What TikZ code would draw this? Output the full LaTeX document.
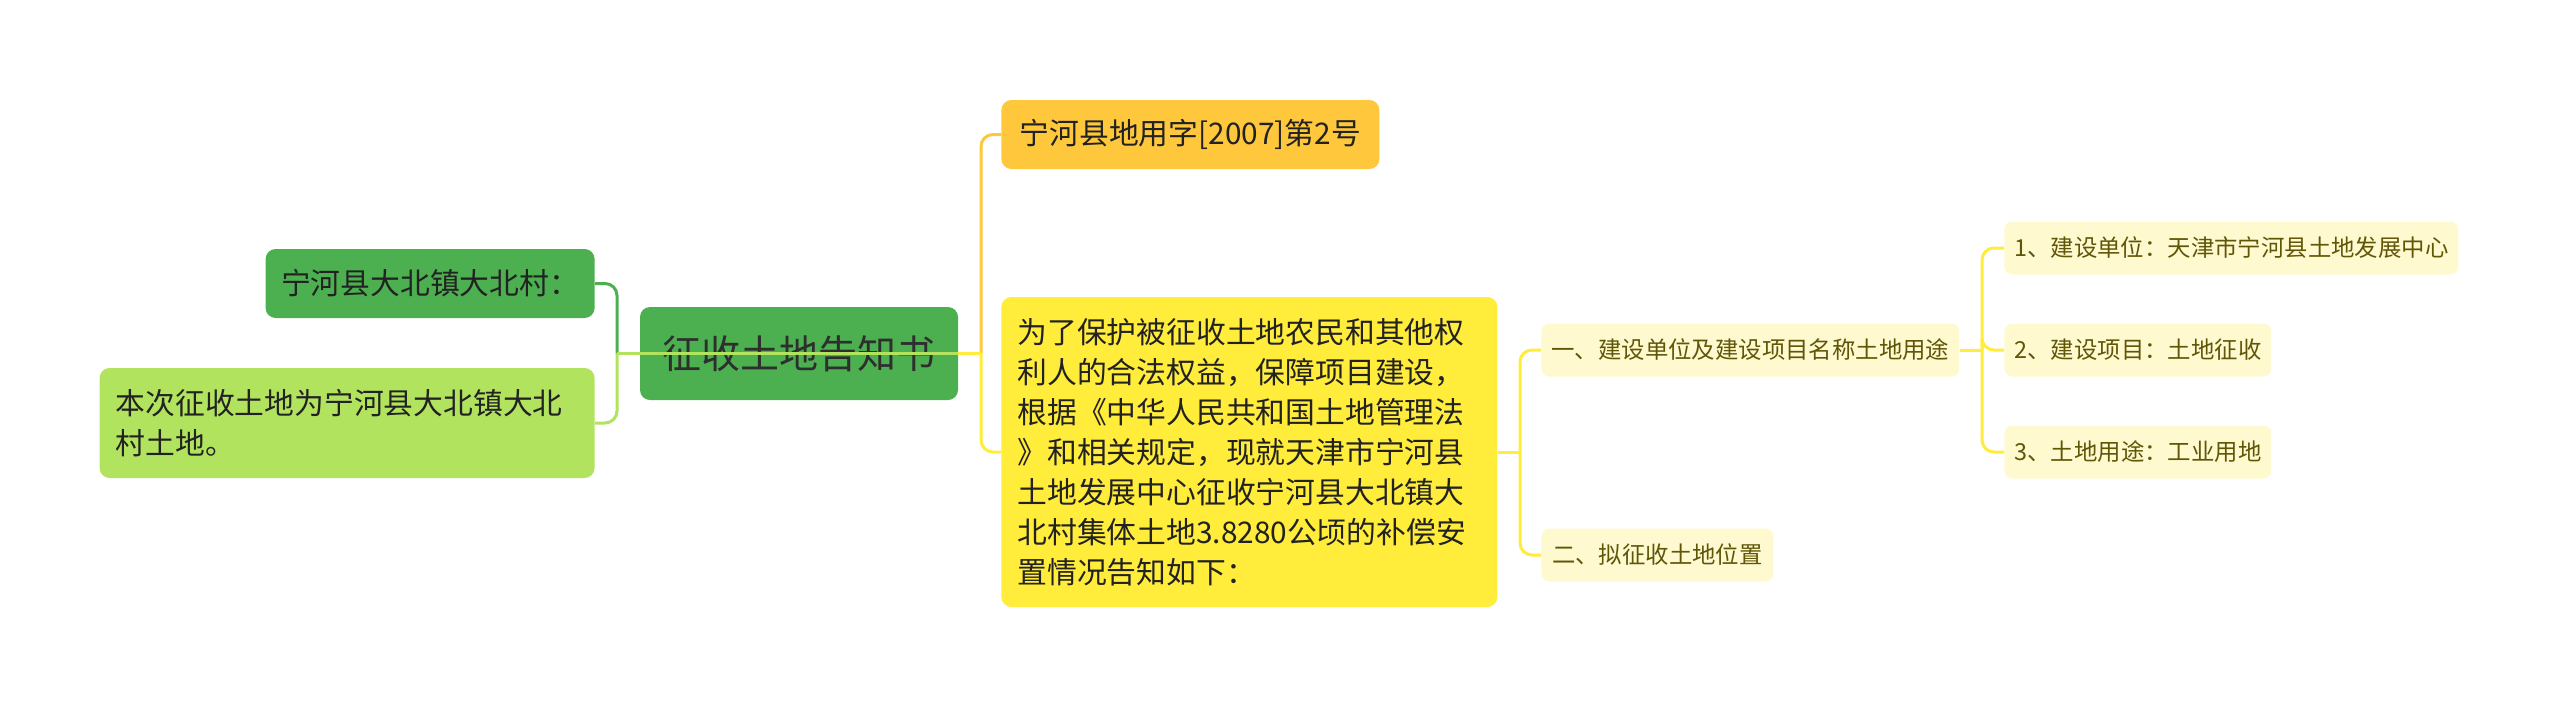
\documentclass[tikz,border=0pt]{standalone}
\usepackage{fontspec}
\setmainfont{Noto Sans CJK SC}
\usetikzlibrary{positioning,calc}
\definecolor{mapdgreen} {RGB}{76,175,80}
\definecolor{maplgreen} {RGB}{178,227,94}
\definecolor{maporange} {RGB}{255,200,60}
\definecolor{mapyellow} {RGB}{255,236,59}
\definecolor{mappale}   {RGB}{255,249,207}
\definecolor{maptext}   {RGB}{34,34,34}
\definecolor{mapolive}  {RGB}{96,86,8}

\begin{document}
\begin{tikzpicture}[x=0.5pt,y=-0.5pt,
  box/.style={rounded corners=5pt,inner sep=0pt,align=center},
  rootbox/.style={box,fill=mapdgreen,minimum width=159pt,minimum height=46.5pt,
                  font=\fontsize{19.5pt}{24pt}\selectfont,text={rgb,255:red,46;green,46;blue,46}},
  lvA/.style={box,font=\fontsize{14.9pt}{20pt}\selectfont,text=maptext},
  lvB/.style={box,rounded corners=4pt,fill=mappale,minimum height=26.5pt,
              font=\fontsize{11.7pt}{14pt}\selectfont,text=mapolive},
  link/.style={draw=#1,line width=1.5pt,rounded corners=6pt},
]
\useasboundingbox (0,0) rectangle (2560,707);

%% Central topic
\node[rootbox] (root) at (799,353.5) {征收土地告知书};

%% Left branch
\node[lvA,fill=mapdgreen,minimum width=164.5pt,minimum height=34.5pt,anchor=east]
  (village) at (595,283.5) {宁河县大北镇大北村：};
\node[lvA,fill=maplgreen,text width=231.5pt,inner xsep=8pt,minimum height=55pt,
      align=left,anchor=east]
  (scope) at (595,423) {本次征收土地为宁河县大北镇大北\\村土地。};

%% Right branch
\node[lvA,fill=maporange,minimum width=189pt,minimum height=34.5pt,anchor=west]
  (docno) at (1001,134.5) {宁河县地用字[2007]第2号};
\node[lvA,fill=mapyellow,text width=232pt,inner xsep=8pt,minimum height=155pt,
      align=left,anchor=west]
  (notice) at (1001,452) {为了保护被征收土地农民和其他权\\
    利人的合法权益，保障项目建设，\\
    根据《中华人民共和国土地管理法\\
    》和相关规定，现就天津市宁河县\\
    土地发展中心征收宁河县大北镇大\\
    北村集体土地3.8280公顷的补偿安\\
    置情况告知如下：};

%% Items of the notice
\node[lvB,minimum width=209pt,anchor=west] (item1) at (1541,350) {一、建设单位及建设项目名称土地用途};
\node[lvB,minimum width=116pt,anchor=west] (item2) at (1541,555) {二、拟征收土地位置};

\node[lvB,minimum width=227pt,anchor=west]   (sub1) at (2004,248) {1、建设单位：天津市宁河县土地发展中心};
\node[lvB,minimum width=133.5pt,anchor=west] (sub2) at (2004,350) {2、建设项目：土地征收};
\node[lvB,minimum width=133.5pt,anchor=west] (sub3) at (2004,452) {3、土地用途：工业用地};

%% Junction points
\coordinate (lbar) at (617,353.5);
\coordinate (rbar) at (981,353.5);
\coordinate (mbar) at (1520,452);
\coordinate (sbar) at (1982,350);

%% Connectors
\draw[link=mapdgreen] (lbar) |- (village.east);
\draw[link=maplgreen] (lbar) |- (scope.east);
\draw[link=maporange] (rbar) |- (docno.west);
\draw[link=mapyellow] (rbar) |- (notice.west);
\draw[link=mapyellow] (root.east) -- (rbar);
\draw[link=maplgreen] (lbar) -- (root.east);

\draw[link=mapyellow] (notice.east) -- (mbar);
\draw[link=mapyellow] (mbar) |- (item1.west);
\draw[link=mapyellow] (mbar) |- (item2.west);

\draw[link=mapyellow] (item1.east) -- (sbar);
\draw[link=mapyellow] (sbar) |- (sub1.west);
\draw[link=mapyellow] (sbar) |- (sub2.west);
\draw[link=mapyellow] (sbar) |- (sub3.west);

\end{tikzpicture}
\end{document}
